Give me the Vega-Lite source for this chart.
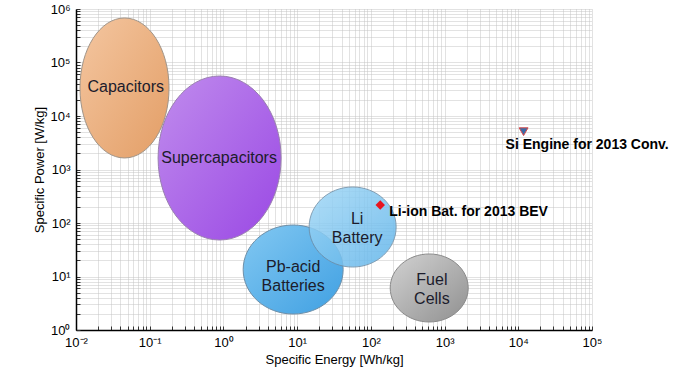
{
  "$schema": "https://vega.github.io/schema/vega-lite/v6.json",
  "width": 516,
  "height": 321,
  "autosize": {"type": "none"},
  "padding": {"left": 76, "top": 9, "right": 91, "bottom": 47},
  "background": "white",
  "config": {
    "view": {"stroke": null},
    "font": "Liberation Sans",
    "axis": {
      "domainColor": "#000000",
      "domainWidth": 1.5,
      "gridColor": "#c4c4c4",
      "gridDash": [1, 1],
      "gridWidth": 1,
      "tickColor": "#333333",
      "tickSize": -4,
      "labelFont": "Liberation Sans",
      "labelFontSize": 13,
      "labelColor": "#000000",
      "labelOverlap": false,
      "labelFlush": false,
      "titleFont": "Liberation Sans",
      "titleFontWeight": "normal",
      "titleFontSize": 13,
      "titleColor": "#000000"
    }
  },
  "datasets": {
    "tech": [
      {"tech": "Capacitors", "energy": 0.0455, "power": 33400, "label": "Capacitors", "lines": 1, "label_energy": 0.0473, "label_power": 35300},
      {"tech": "Supercapacitors", "energy": 0.887, "power": 1640, "label": "Supercapacitors", "lines": 1, "label_energy": 0.873, "label_power": 1663},
      {"tech": "Pb-acid Batteries", "energy": 8.83, "power": 13.5, "label": "Pb-acid\nBatteries", "lines": 2, "label_energy": 8.83, "label_power": 10.0},
      {"tech": "Li Battery", "energy": 56.6, "power": 84.1, "label": "Li\nBattery", "lines": 2, "label_energy": 65.2, "label_power": 78.9},
      {"tech": "Fuel Cells", "energy": 619, "power": 6.1, "label": "Fuel\nCells", "lines": 2, "label_energy": 673, "label_power": 5.6}
    ],
    "points": [
      {"name": "Li-ion Bat. for 2013 BEV", "energy": 134, "power": 217},
      {"name": "Si Engine for 2013 Conv.", "energy": 11800, "power": 5090}
    ]
  },
  "encoding": {
    "x": {
      "field": "energy", "type": "quantitative",
      "scale": {"type": "log", "domain": [0.01, 100000], "nice": false},
      "axis": {
        "title": "Specific Energy [Wh/kg]",
        "titlePadding": 4,
        "labelPadding": 10,
        "values": [0.01,0.02,0.03,0.04,0.05,0.06,0.07,0.08,0.09,0.1,0.2,0.3,0.4,0.5,0.6,0.7,0.8,0.9,1,2,3,4,5,6,7,8,9,10,20,30,40,50,60,70,80,90,100,200,300,400,500,600,700,800,900,1000,2000,3000,4000,5000,6000,7000,8000,9000,10000,20000,30000,40000,50000,60000,70000,80000,90000,100000],
        "labelExpr": "abs(log(datum.value)/LN10 - round(log(datum.value)/LN10)) < 0.001 ? ['10⁻²','10⁻¹','10⁰','10¹','10²','10³','10⁴','10⁵','10⁶'][round(log(datum.value)/LN10)+2] : ''"
      }
    },
    "y": {
      "field": "power", "type": "quantitative",
      "scale": {"type": "log", "domain": [1, 1000000], "nice": false},
      "axis": {
        "title": "Specific Power [W/kg]",
        "titlePadding": 3,
        "labelPadding": 10,
        "values": [1,2,3,4,5,6,7,8,9,10,20,30,40,50,60,70,80,90,100,200,300,400,500,600,700,800,900,1000,2000,3000,4000,5000,6000,7000,8000,9000,10000,20000,30000,40000,50000,60000,70000,80000,90000,100000,200000,300000,400000,500000,600000,700000,800000,900000,1000000],
        "labelExpr": "abs(log(datum.value)/LN10 - round(log(datum.value)/LN10)) < 0.001 ? ['10⁻²','10⁻¹','10⁰','10¹','10²','10³','10⁴','10⁵','10⁶'][round(log(datum.value)/LN10)+2] : ''"
      }
    }
  },
  "layer": [
    {
      "data": {"name": "tech"},
      "transform": [{"filter": "datum.tech === 'Capacitors'"}],
      "mark": {"type": "point", "filled": true, "opacity": 1, "size": 19600,
        "shape": "M -0.636,0 A 0.636,1 0 1,1 0.636,0 A 0.636,1 0 1,1 -0.636,0 Z",
        "fill": {"gradient": "linear", "x1": 0, "y1": 0, "x2": 1, "y2": 1, "stops": [{"offset": 0, "color": "#f4c6a0"}, {"offset": 1, "color": "#e39e66"}]},
        "stroke": "#a09488", "strokeWidth": 1}
    },
    {
      "data": {"name": "tech"},
      "transform": [{"filter": "datum.tech === 'Supercapacitors'"}],
      "mark": {"type": "point", "filled": true, "opacity": 1, "size": 26896,
        "shape": "M -0.75,0 A 0.75,1 0 1,1 0.75,0 A 0.75,1 0 1,1 -0.75,0 Z",
        "fill": {"gradient": "linear", "x1": 0, "y1": 0, "x2": 1, "y2": 1, "stops": [{"offset": 0, "color": "#c08ced"}, {"offset": 1, "color": "#9a48e4"}]},
        "stroke": "#9a80b0", "strokeWidth": 1}
    },
    {
      "data": {"name": "tech"},
      "transform": [{"filter": "datum.tech === 'Pb-acid Batteries'"}],
      "mark": {"type": "point", "filled": true, "opacity": 1, "size": 10000,
        "shape": "M -1,0 A 1,0.89 0 1,1 1,0 A 1,0.89 0 1,1 -1,0 Z",
        "fill": {"gradient": "linear", "x1": 0, "y1": 0, "x2": 1, "y2": 1, "stops": [{"offset": 0, "color": "#82c8f2"}, {"offset": 1, "color": "#40a0e2"}]},
        "stroke": "#6f8fa8", "strokeWidth": 1}
    },
    {
      "data": {"name": "tech"},
      "transform": [{"filter": "datum.tech === 'Li Battery'"}],
      "mark": {"type": "point", "filled": true, "opacity": 0.85, "size": 7569,
        "shape": "M -1,0 A 1,0.92 0 1,1 1,0 A 1,0.92 0 1,1 -1,0 Z",
        "fill": {"gradient": "linear", "x1": 0, "y1": 0, "x2": 1, "y2": 1, "stops": [{"offset": 0, "color": "#a2d8f6"}, {"offset": 1, "color": "#60b4ea"}]},
        "stroke": "#6f8fa8", "strokeWidth": 1}
    },
    {
      "data": {"name": "tech"},
      "transform": [{"filter": "datum.tech === 'Fuel Cells'"}],
      "mark": {"type": "point", "filled": true, "opacity": 1, "size": 6084,
        "shape": "M -1,0 A 1,0.872 0 1,1 1,0 A 1,0.872 0 1,1 -1,0 Z",
        "fill": {"gradient": "linear", "x1": 0, "y1": 0, "x2": 1, "y2": 1, "stops": [{"offset": 0, "color": "#d2d2d2"}, {"offset": 1, "color": "#909090"}]},
        "stroke": "#8a8a8a", "strokeWidth": 1}
    },
    {
      "data": {"name": "tech"},
      "transform": [{"filter": "datum.lines === 1"}],
      "mark": {"type": "text", "font": "Liberation Sans", "fontSize": 16, "color": "#1c1c2c", "align": "center", "baseline": "middle"},
      "encoding": {
        "x": {"field": "label_energy", "type": "quantitative"},
        "y": {"field": "label_power", "type": "quantitative"},
        "text": {"field": "label"}
      }
    },
    {
      "data": {"name": "tech"},
      "transform": [{"filter": "datum.lines === 2"}],
      "mark": {"type": "text", "font": "Liberation Sans", "fontSize": 16, "color": "#1c1c2c", "align": "center", "baseline": "middle", "lineBreak": "\n", "lineHeight": 19, "dy": -9.5},
      "encoding": {
        "x": {"field": "label_energy", "type": "quantitative"},
        "y": {"field": "label_power", "type": "quantitative"},
        "text": {"field": "label"}
      }
    },
    {
      "data": {"name": "points"},
      "transform": [{"filter": "datum.name === 'Li-ion Bat. for 2013 BEV'"}],
      "mark": {"type": "point", "shape": "diamond", "filled": true, "size": 90, "color": "#e8141e", "opacity": 1}
    },
    {
      "data": {"name": "points"},
      "transform": [{"filter": "datum.name === 'Si Engine for 2013 Conv.'"}],
      "mark": {"type": "point", "shape": "triangle-down", "filled": true, "size": 80, "fill": "#3a6ca8", "stroke": "#d84a4a", "strokeWidth": 1, "opacity": 1}
    },
    {
      "data": {"name": "points"},
      "transform": [{"filter": "datum.name === 'Li-ion Bat. for 2013 BEV'"}],
      "mark": {"type": "text", "font": "Liberation Sans", "fontSize": 14, "fontWeight": "bold", "color": "#000000", "align": "left", "baseline": "middle", "dx": 9, "dy": 7},
      "encoding": {"text": {"field": "name"}}
    },
    {
      "data": {"name": "points"},
      "transform": [{"filter": "datum.name === 'Si Engine for 2013 Conv.'"}],
      "mark": {"type": "text", "font": "Liberation Sans", "fontSize": 14, "fontWeight": "bold", "color": "#000000", "align": "left", "baseline": "middle", "dx": -18, "dy": 13},
      "encoding": {"text": {"field": "name"}}
    },
    {
      "mark": {"type": "rule", "color": "#666666", "strokeWidth": 1.5},
      "encoding": {"y": {"datum": 1000000}}
    }
  ]
}
